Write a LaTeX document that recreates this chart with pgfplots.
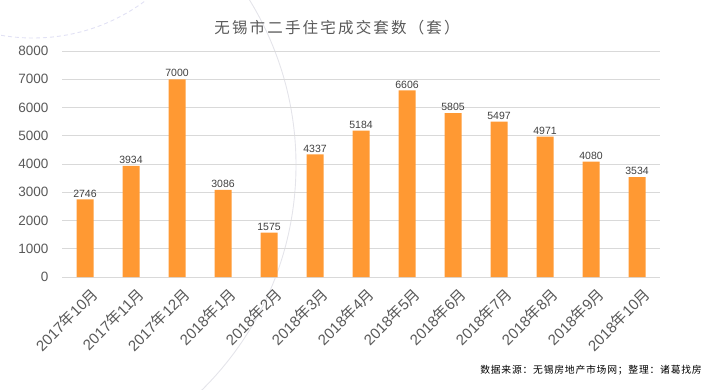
\documentclass[border=0pt]{standalone}
\usepackage{pgfplots}
\pgfplotsset{compat=1.18}
\usepackage{fontspec}
\setmainfont{Liberation Sans}
\newfontfamily\cjk{Noto Sans CJK SC}
\newfontfamily\cjktitle[LetterSpace=14]{Noto Sans CJK SC}
\newfontfamily\cjksrc[LetterSpace=8]{Noto Sans CJK SC}
\definecolor{barorange}{RGB}{255,153,51}
\definecolor{gridgray}{RGB}{217,217,217}
\definecolor{txtgray}{RGB}{89,89,89}
\definecolor{lblgray}{RGB}{64,64,64}
\definecolor{circgray}{RGB}{228,228,234}
\newcommand{\ny}{{\cjk 年}}
\newcommand{\yu}{{\cjk 月}}
\begin{document}
\begin{tikzpicture}[x=1bp,y=1bp]
\useasboundingbox (0,0) rectangle (707,389);
\begin{scope}
\clip (0,0) rectangle (707,389);
\draw[circgray, line width=0.9bp] (-20,224) circle (316);
\draw[circgray!90!blue!60!white, line width=0.9bp, dash pattern=on 4bp off 3bp] (33,539) circle (188);
\end{scope}
\begin{axis}[
  at={(62bp,112bp)}, anchor=south west,
  scale only axis, width=598bp, height=226bp,
  xmin=-0.5, xmax=12.5, ymin=0, ymax=8000,
  ytick={0,1000,...,8000},
  xtick={0,...,12},
  xticklabels={2017\ny10\yu,2017\ny11\yu,2017\ny12\yu,2018\ny1\yu,2018\ny2\yu,2018\ny3\yu,2018\ny4\yu,2018\ny5\yu,2018\ny6\yu,2018\ny7\yu,2018\ny8\yu,2018\ny9\yu,2018\ny10\yu},
  axis line style={draw=none},
  ymajorgrids, grid style={gridgray, line width=0.8bp},
  major tick length=0pt,
  /pgf/number format/assume math mode=true,
  /pgf/number format/set thousands separator={},
  yticklabel style={font=\fontsize{13.5bp}{15bp}\selectfont, color=txtgray, xshift=-10bp},
  xticklabel style={font=\fontsize{15bp}{17bp}\selectfont, color=txtgray, rotate=45, anchor=north east, inner sep=1bp, yshift=-9bp, xshift=-2bp},
  ybar, bar width=17bp,
  nodes near coords,
  every node near coord/.append style={font=\fontsize{10.5bp}{12bp}\selectfont, color=lblgray, inner sep=2bp},
  clip=false,
]
\addplot[fill=barorange, draw=none] coordinates {
(0,2746) (1,3934) (2,7000) (3,3086) (4,1575) (5,4337) (6,5184) (7,6606) (8,5805) (9,5497) (10,4971) (11,4080) (12,3534)};
\end{axis}
\node[color=txtgray, font=\fontsize{15.5bp}{17bp}\cjktitle] at (337,361) {无锡市二手住宅成交套数（套）};
\node[color=black, font=\fontsize{9.8bp}{12bp}\cjksrc] at (591,19) {数据来源：无锡房地产市场网；整理：诸葛找房};
\end{tikzpicture}
\end{document}
